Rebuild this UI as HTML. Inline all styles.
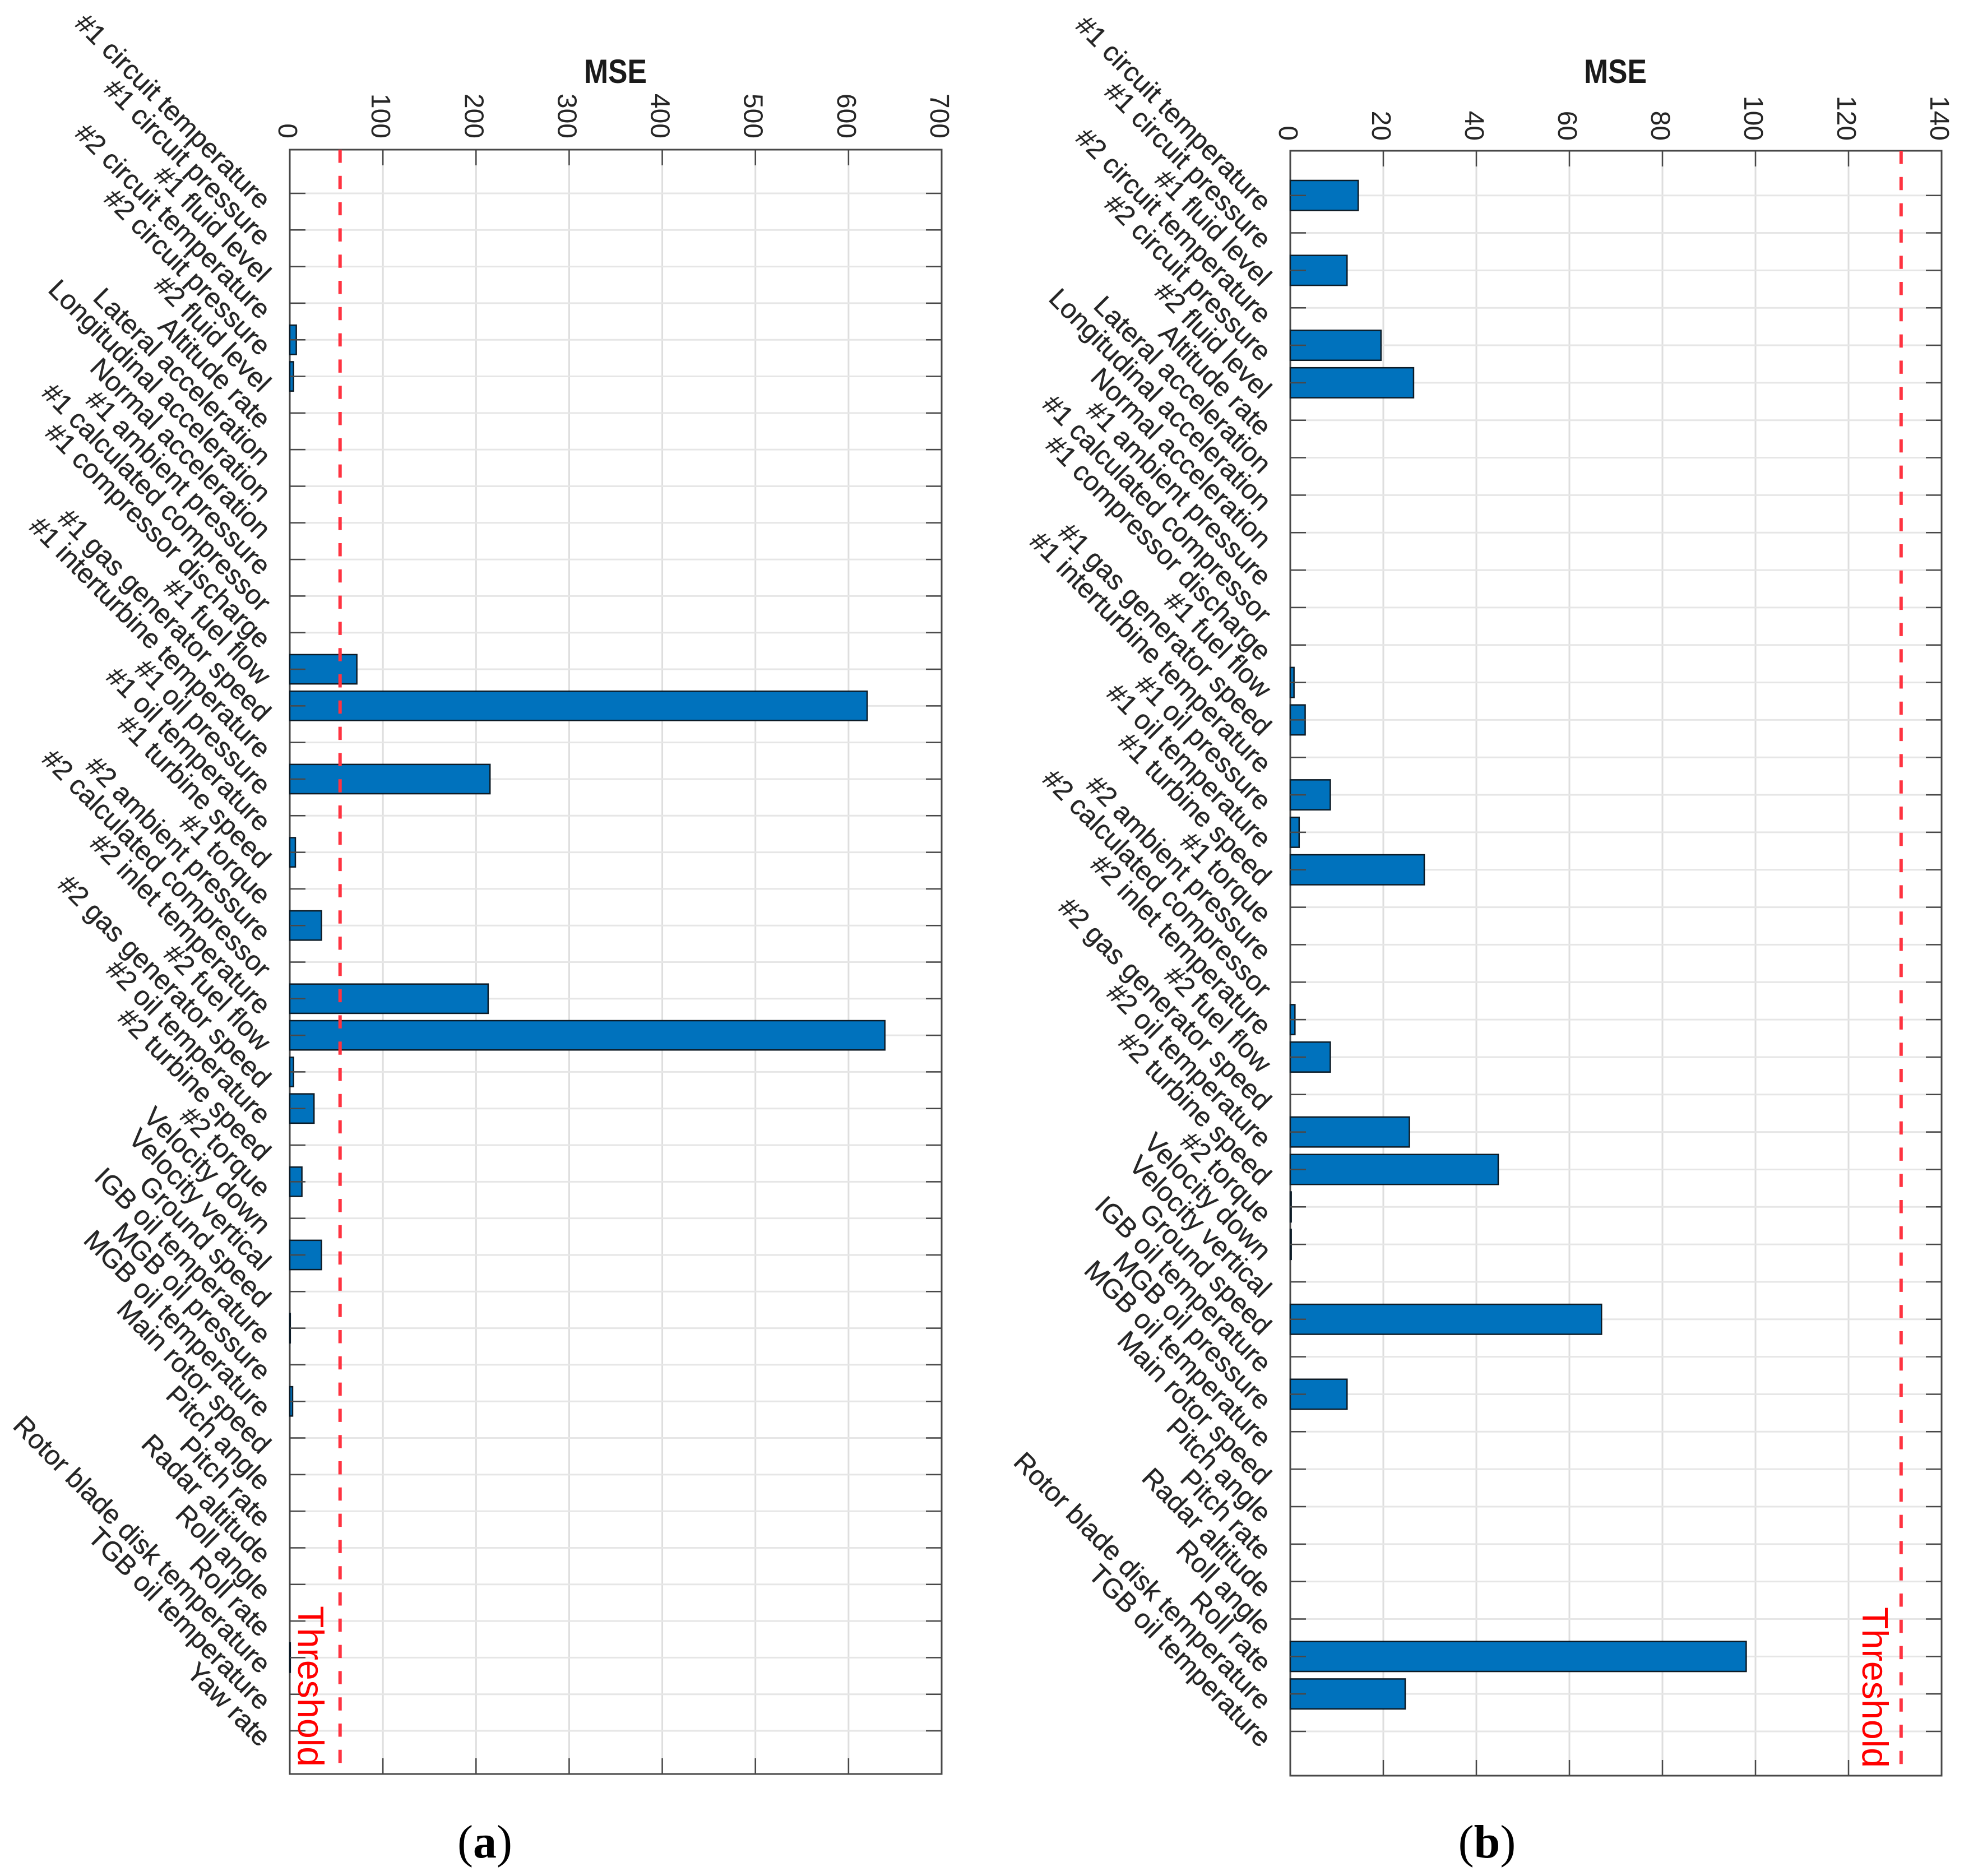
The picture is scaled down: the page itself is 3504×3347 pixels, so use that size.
<!DOCTYPE html>
<html lang="en">
<head>
<meta charset="utf-8">
<title>MSE per parameter</title>
<style>
html,body{margin:0;padding:0;background:#fff;}
body{width:3504px;height:3347px;overflow:hidden;}
svg{display:block;}
text{font-family:"Liberation Sans",Arial,sans-serif;}
</style>
</head>
<body>
<svg id="figure" xmlns="http://www.w3.org/2000/svg" width="3504" height="3347" viewBox="0 0 3504 3347">
  <text x="865" y="3314" text-anchor="middle" font-size="84" fill="#000" style='font-family:"Liberation Serif",serif'>(<tspan font-weight="bold">a</tspan>)</text>
  <text x="2653" y="3314" text-anchor="middle" font-size="84" fill="#000" style='font-family:"Liberation Serif",serif'>(<tspan font-weight="bold">b</tspan>)</text>
</svg>
<script>
const categories = [
  "#1 circuit temperature","#1 circuit pressure","#1 fluid level","#2 circuit temperature",
  "#2 circuit pressure","#2 fluid level","Altitude rate","Lateral acceleration",
  "Longitudinal acceleration","Normal acceleration","#1 ambient pressure","#1 calculated compressor",
  "#1 compressor discharge","#1 fuel flow","#1 gas generator speed","#1 interturbine temperature",
  "#1 oil pressure","#1 oil temperature","#1 turbine speed","#1 torque",
  "#2 ambient pressure","#2 calculated compressor","#2 inlet temperature","#2 fuel flow",
  "#2 gas generator speed","#2 oil temperature","#2 turbine speed","#2 torque",
  "Velocity down","Velocity vertical","Ground speed","IGB oil temperature",
  "MGB oil pressure","MGB oil temperature","Main rotor speed","Pitch angle",
  "Pitch rate","Radar altitude","Roll angle","Roll rate",
  "Rotor blade disk temperature","TGB oil temperature","Yaw rate"
];
const categoriesB = categories.slice(0, 42);
const valuesA = [0,0,0,0,7,4,0,0,0,0,0,0,0,72,620,0,215,0,6,0,34,0,213,639,4,26,0,13,0,34,0,0.5,0,3,0,0,0,0,0,0,0.5,0,0];
const valuesB = [14.6,0,12.2,0,19.5,26.5,0,0,0,0,0,0,0,0.8,3.2,0,8.6,1.9,28.8,0,0,0,1,8.6,0,25.6,44.7,0.2,0.2,0,66.9,0,12.2,0,0,0,0,0,0,98,24.7,0];
const xTicksA = [0,100,200,300,400,500,600,700];
const xTicksB = [0,20,40,60,80,100,120,140];
const thresholdA = 54;
const thresholdB = 131.3;

const SVG_NS = "http://www.w3.org/2000/svg";
const figure = document.getElementById("figure");

function make(tag, attrs, parent) {
  const node = document.createElementNS(SVG_NS, tag);
  for (const key in attrs) node.setAttribute(key, attrs[key]);
  parent.appendChild(node);
  return node;
}

function drawPanel(p, cats, values, ticks, threshold) {
  const xScale = v => p.left + v * (p.right - p.left) / ticks[ticks.length - 1];
  const yScale = i => p.firstTick + i * (p.lastTick - p.firstTick) / (cats.length - 1);
  const barHeight = 0.8 * (p.lastTick - p.firstTick) / (cats.length - 1);
  const tickLen = 28;

  const g = make("g", {}, figure);
  
  

  ticks.forEach(t => {
    const el = make("line", {x1: xScale(t), x2: xScale(t), y1: p.top, y2: p.bottom, stroke: "#dedede", "stroke-width": 3}, g);
    
    
  });
  cats.forEach((c, i) => {
    const el = make("line", {x1: p.left, x2: p.right, y1: yScale(i), y2: yScale(i), stroke: "#e6e6e6", "stroke-width": 3}, g);
    
    
  });

  const frame = make("rect", {x: p.left, y: p.top, width: p.right - p.left, height: p.bottom - p.top, fill: "none", stroke: "#484848", "stroke-width": 3}, g);
  
  

  values.forEach((v, i) => {
    const el = make("rect", {x: xScale(0), y: yScale(i) - barHeight / 2, width: xScale(v) - xScale(0), height: barHeight, fill: "#0072BD", stroke: "#0d1b26", "stroke-width": 2.5}, g);
    
    
  });

  const thr = make("line", {x1: xScale(threshold), x2: xScale(threshold), y1: p.top, y2: p.thresholdEnd, stroke: "#ff3340", "stroke-width": 6, "stroke-dasharray": "23.5 23.3"}, g);
  
  

  ticks.forEach(t => {
    const x = xScale(t);
    const top = make("line", {x1: x, x2: x, y1: p.top, y2: p.top + tickLen, stroke: "#484848", "stroke-width": 2.5}, g);
    
    
    const bottom = make("line", {x1: x, x2: x, y1: p.bottom, y2: p.bottom - tickLen, stroke: "#484848", "stroke-width": 2.5}, g);
    
    
    const label = make("text", {transform: "translate(" + (x - 20) + " " + p.tickLabelEnd + ") rotate(90)", "text-anchor": "end", "font-size": 48, fill: "#262626"}, g);
    label.textContent = String(t);
    
    
  });

  cats.forEach((c, i) => {
    const y = yScale(i);
    const left = make("line", {x1: p.left, x2: p.left + tickLen, y1: y, y2: y, stroke: "#484848", "stroke-width": 2.5}, g);
    
    
    const right = make("line", {x1: p.right, x2: p.right - tickLen, y1: y, y2: y, stroke: "#484848", "stroke-width": 2.5}, g);
    
    
    const label = make("text", {transform: "translate(" + (p.left - 54) + " " + (y + 31) + ") rotate(45)", "text-anchor": "end", "font-size": 48.5, fill: "#262626", stroke: "#262626", "stroke-width": 0.4}, g);
    label.textContent = c;
    
    
  });

  const title = make("text", {x: p.titleX, y: 148, "text-anchor": "middle", "font-size": 60, "font-weight": "bold", fill: "#1a1a1a", textLength: 112, lengthAdjust: "spacingAndGlyphs"}, g);
  title.textContent = "MSE";
  
  

  const thrLabel = make("text", {transform: "translate(" + p.thresholdTextX + " " + p.thresholdTextEnd + ") rotate(90)", "text-anchor": "end", "font-size": 64.5, fill: "#ff0000"}, g);
  thrLabel.textContent = "Threshold";
  
  
}

drawPanel(
  {name: "panel-a", left: 517, right: 1680, top: 267, bottom: 3165, firstTick: 345, lastTick: 3088,
   thresholdEnd: 3146, tickLabelEnd: 247, titleX: 1098, thresholdTextX: 532, thresholdTextEnd: 3152},
  categories, valuesA, xTicksA, thresholdA
);
drawPanel(
  {name: "panel-b", left: 2302, right: 3464, top: 269, bottom: 3168, firstTick: 348.7, lastTick: 3089,
   thresholdEnd: 3150, tickLabelEnd: 251, titleX: 2882, thresholdTextX: 3323, thresholdTextEnd: 3154},
  categoriesB, valuesB, xTicksB, thresholdB
);
</script>
</body>
</html>
